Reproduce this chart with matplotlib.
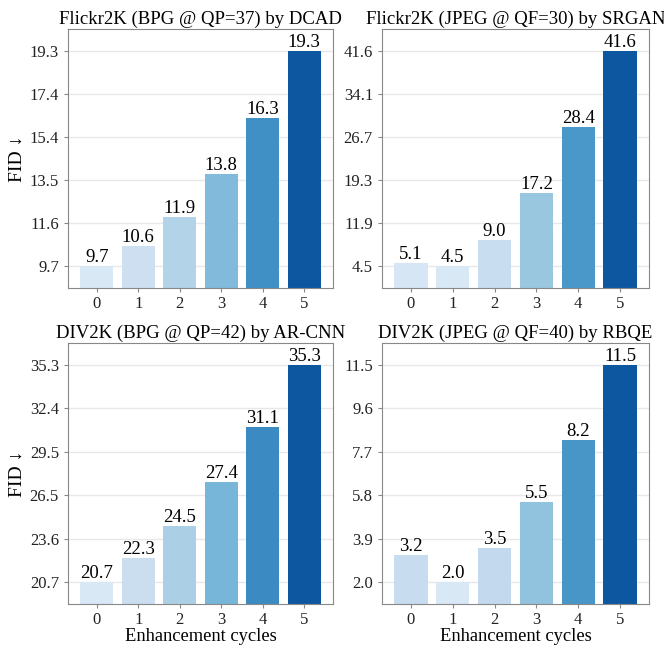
import numpy as np
import matplotlib
matplotlib.use("Agg")
import matplotlib.pyplot as plt
from matplotlib import cm

plt.rcParams['font.family'] = ['Liberation Serif', 'DejaVu Serif']

cycles = [0, 1, 2, 3, 4, 5]

titles = ["Flickr2K (BPG @ QP=37) by DCAD",
          "Flickr2K (JPEG @ QF=30) by SRGAN",
          "DIV2K (BPG @ QP=42) by AR-CNN",
          "DIV2K (JPEG @ QF=40) by RBQE"]

fid_dcad = [9.7, 10.6, 11.9, 13.8, 16.3, 19.3]
fid_srgan = [5.1, 4.5, 9.0, 17.2, 28.4, 41.6]
fid_arcnn = [20.7, 22.3, 24.5, 27.4, 31.1, 35.3]
fid_rbqe = [3.2, 2.0, 3.5, 5.5, 8.2, 11.5]

ticks_dcad = ["9.7", "11.6", "13.5", "15.4", "17.4", "19.3"]
ticks_srgan = ["4.5", "11.9", "19.3", "26.7", "34.1", "41.6"]
ticks_arcnn = ["20.7", "23.6", "26.5", "29.5", "32.4", "35.3"]
ticks_rbqe = ["2.0", "3.9", "5.8", "7.7", "9.6", "11.5"]

all_vals = [fid_dcad, fid_srgan, fid_arcnn, fid_rbqe]
all_ticks = [ticks_dcad, ticks_srgan, ticks_arcnn, ticks_rbqe]

fig = plt.figure(figsize=(6.64, 6.47), dpi=100)
W, H = 664, 647
boxes = [(68, 29, 333, 288), (382, 29, 649, 288),
         (68, 343, 333, 604), (382, 343, 649, 604)]

for i in range(4):
    x0, y0, x1, y1 = boxes[i]
    ax = fig.add_axes([x0 / W, 1 - y1 / H, (x1 - x0) / W, (y1 - y0) / H])
    vals = np.array(all_vals[i])
    lo, hi = vals.min(), vals.max()
    rng = hi - lo
    norm = (vals - lo) / rng
    colors = cm.Blues(0.15 + 0.7 * norm)
    ax.bar(cycles, vals, width=0.8, color=colors, zorder=2)
    for x, v in zip(cycles, vals):
        ax.text(x, v, "%.1f" % v, ha="center", va="bottom", fontsize=13.5, zorder=3)
    ax.set_ylim(lo - 0.1 * rng, hi + 0.1 * rng)
    ax.set_xlim(-0.69, 5.69)
    ax.set_yticks(np.linspace(lo, hi, 6))
    ax.set_yticklabels(all_ticks[i])
    ax.set_xticks(cycles)
    ax.grid(axis="y", color="#e8e8e8", linewidth=1, zorder=0)
    ax.set_axisbelow(True)
    for s in ax.spines.values():
        s.set_color("#888888")
    ax.tick_params(colors="#888888", labelcolor="#222222", labelsize=12, length=3)
    ax.tick_params(axis="x", pad=2.5)
    ax.set_title(titles[i], fontsize=13.5, pad=4)
    if i % 2 == 0:
        ax.set_ylabel("FID ↓", fontsize=14, labelpad=3)
    if i >= 2:
        ax.set_xlabel("Enhancement cycles", fontsize=13.3, labelpad=0)

fig.savefig("out.png", dpi=100)
